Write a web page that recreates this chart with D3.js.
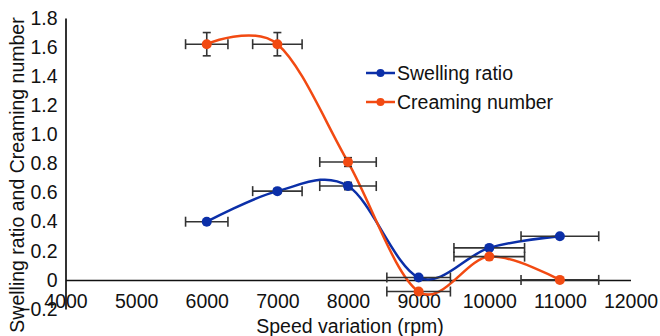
<!DOCTYPE html>
<html>
<head>
<meta charset="utf-8">
<script src="https://cdn.jsdelivr.net/npm/d3@7"></script>
<style>
  body { margin: 0; background: #fff; }
  text { font-family: "Liberation Sans", Arial, sans-serif; }
</style>
</head>
<body>
<svg id="chart" width="660" height="336"></svg>
<script>
// speeds (rpm)
var speeds = [6000, 7000, 8000, 9000, 10000, 11000];
var swelling = [0.40, 0.61, 0.645, 0.016, 0.22, 0.30];
var creaming = [1.62, 1.62, 0.81, -0.08, 0.16, 0];
// error bars
var speedErr = [300, 350, 400, 450, 500, 550];
var swellingErr = [0, 0.015, 0.025, 0, 0, 0];
var creamingErr = [0.08, 0.08, 0.03, 0, 0, 0];
var xTicks = [4000, 5000, 6000, 7000, 8000, 9000, 10000, 11000, 12000];
var yTicks = [-0.2, 0, 0.2, 0.4, 0.6, 0.8, 1.0, 1.2, 1.4, 1.6, 1.8];

var series = [
  { name: "Swelling ratio", values: swelling, yerr: swellingErr, color: "#0b2fa8" },
  { name: "Creaming number", values: creaming, yerr: creamingErr, color: "#f24a12" }
];

var svg = d3.select("#chart");
var fs = 19.5;

var x = d3.scaleLinear().domain([4000, 12000]).range([65.5, 630.5]);
var y = d3.scaleLinear().domain([-0.2, 1.8]).range([309, 18]);

// y axis
var yAxis = d3.axisLeft(y)
  .tickValues(yTicks)
  .tickSize(0)
  .tickPadding(8)
  .tickFormat(function (d) { return d === 0 ? "0" : d3.format(".1f")(d); });
var gy = svg.append("g")
  .attr("transform", "translate(" + x(4000) + ",0)")
  .call(yAxis);
gy.select(".domain").attr("stroke", "#333").attr("stroke-width", 2);
gy.selectAll("text").attr("font-size", fs).attr("fill", "#111")
  .attr("font-family", "Liberation Sans, Arial, sans-serif");

// x axis, sitting on y = 0
var xAxis = d3.axisBottom(x)
  .tickValues(xTicks)
  .tickSize(0)
  .tickPadding(14)
  .tickFormat(d3.format("d"));
var gx = svg.append("g")
  .attr("transform", "translate(0," + y(0) + ")")
  .call(xAxis);
gx.select(".domain").attr("stroke", "#111").attr("stroke-width", 1.5);
gx.selectAll("text").attr("font-size", fs).attr("fill", "#111")
  .attr("font-family", "Liberation Sans, Arial, sans-serif");

// axis titles
svg.append("text")
  .attr("transform", "translate(24,175) rotate(-90)")
  .attr("text-anchor", "middle")
  .attr("font-size", fs)
  .attr("fill", "#111")
  .text("Swelling ratio and Creaming number");

svg.append("text")
  .attr("x", 350)
  .attr("y", 333)
  .attr("text-anchor", "middle")
  .attr("font-size", fs)
  .attr("fill", "#111")
  .text("Speed variation (rpm)");

// smoothed lines
var line = d3.line()
  .x(function (d) { return x(d[0]); })
  .y(function (d) { return y(d[1]); })
  .curve(d3.curveCardinal.tension(0));

series.forEach(function (s) {
  var pts = speeds.map(function (v, i) { return [v, s.values[i]]; });
  svg.append("path")
    .datum(pts)
    .attr("fill", "none")
    .attr("stroke", s.color)
    .attr("stroke-width", 2.5)
    .attr("d", line);
});

// error bars
var eb = svg.append("g").attr("stroke", "#333").attr("stroke-width", 1.6);
series.forEach(function (s) {
  speeds.forEach(function (v, i) {
    var cx = x(v), cy = y(s.values[i]);
    var x0 = x(v - speedErr[i]), x1 = x(v + speedErr[i]);
    eb.append("line").attr("x1", x0).attr("x2", x1).attr("y1", cy).attr("y2", cy);
    eb.append("line").attr("x1", x0).attr("x2", x0).attr("y1", cy - 5).attr("y2", cy + 5);
    eb.append("line").attr("x1", x1).attr("x2", x1).attr("y1", cy - 5).attr("y2", cy + 5);
    if (s.yerr[i] > 0) {
      var y0 = y(s.values[i] - s.yerr[i]), y1 = y(s.values[i] + s.yerr[i]);
      eb.append("line").attr("x1", cx).attr("x2", cx).attr("y1", y0).attr("y2", y1);
      eb.append("line").attr("x1", cx - 4).attr("x2", cx + 4).attr("y1", y0).attr("y2", y0);
      eb.append("line").attr("x1", cx - 4).attr("x2", cx + 4).attr("y1", y1).attr("y2", y1);
    }
  });
});

// markers
series.forEach(function (s) {
  svg.append("g").selectAll("circle")
    .data(speeds)
    .enter().append("circle")
    .attr("cx", function (d) { return x(d); })
    .attr("cy", function (d, i) { return y(s.values[i]); })
    .attr("r", 5)
    .attr("fill", s.color);
});

// legend
var legend = svg.append("g").attr("transform", "translate(366,73)");
series.forEach(function (s, i) {
  var g = legend.append("g").attr("transform", "translate(0," + i * 29 + ")");
  g.append("line").attr("x1", 0).attr("x2", 29).attr("y1", 0).attr("y2", 0)
    .attr("stroke", s.color).attr("stroke-width", 2.5);
  g.append("circle").attr("cx", 14.5).attr("cy", 0).attr("r", 4).attr("fill", s.color);
  g.append("text").attr("x", 31).attr("y", 0).attr("dy", "0.35em")
    .attr("font-size", fs).attr("fill", "#111").text(s.name);
});
</script>
</body>
</html>
